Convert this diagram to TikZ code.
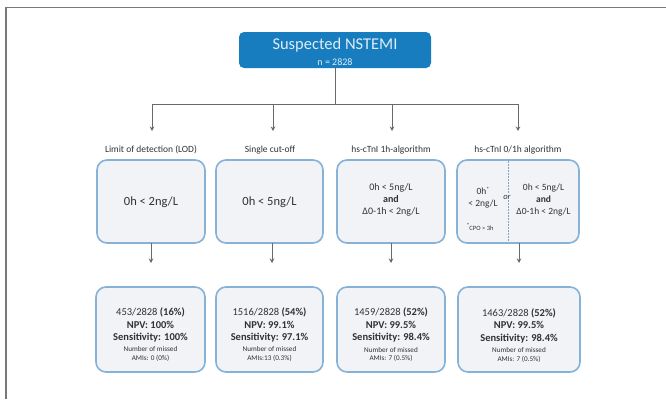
\documentclass[tikz,border=0pt]{standalone}
\usepackage{fontspec}
\setmainfont{Carlito}
\usetikzlibrary{arrows.meta}
\definecolor{framec}{RGB}{120,120,120}
\definecolor{nblue}{RGB}{24,125,190}
\definecolor{ntext}{RGB}{222,236,247}
\definecolor{bline}{RGB}{135,178,216}
\definecolor{bfill}{RGB}{241,243,246}
\definecolor{txt}{RGB}{50,50,50}
\definecolor{arr}{RGB}{105,105,105}
\newcommand{\astmark}{\raisebox{3pt}{\fontsize{6}{6}\selectfont *}}
\begin{document}
\begin{tikzpicture}[x=1pt,y=-1pt,
  every node/.style={inner sep=0pt,outer sep=0pt,text=txt},
  cbox/.style={draw=bline,line width=1.6pt,fill=bfill,rounded corners=10pt,minimum width=#1},
  upbox/.style={cbox=#1,minimum height=83pt},
  lowbox/.style={cbox=#1,minimum height=85pt},
  lbl/.style={font=\fontsize{9.5}{11}\selectfont,text=txt},
  conn/.style={draw=arr,line width=0.8pt},
  arrow/.style={conn,-{Stealth[length=4.5pt,width=4.5pt]}},
  restext/.style={align=center,font=\fontsize{10.5}{12.5}\selectfont},
  small/.style={font=\fontsize{7.2}{8.6}\selectfont}
]
\useasboundingbox (0,0) rectangle (666,399);
\fill[white] (0,0) rectangle (666,399);
% frame
\draw[framec,line width=1.3pt] (6,399) -- (6,7.5) -- (666,7.5);

% top node
\node[fill=nblue,rounded corners=5pt,minimum width=192pt,minimum height=36pt] (top) at (335,50) {};
\node[text=ntext,font=\fontsize{16.5}{18}\selectfont] (topa) at (335,45) {Suspected NSTEMI};
\node[text=ntext,font=\fontsize{10}{11}\selectfont] (topb) at (335,62) {n = 2828};

% branch coordinates
\coordinate (j) at (335,104);
\coordinate (b1) at (152,104);
\coordinate (b2) at (273,104);
\coordinate (b3) at (392,104);
\coordinate (b4) at (518,104);
\coordinate (t1) at (152,131);
\coordinate (t2) at (273,131);
\coordinate (t3) at (392,131);
\coordinate (t4) at (518,131);
\draw[conn] (top.south) -- (j);
\draw[conn] (b1) -- (b4);
\draw[arrow] (b1) -- (t1);
\draw[arrow] (b2) -- (t2);
\draw[arrow] (b3) -- (t3);
\draw[arrow] (b4) -- (t4);

% labels
\node[lbl] (l1) at (151,150) {Limit of detection (LOD)};
\node[lbl] (l2) at (270,150) {Single cut-off};
\node[lbl] (l3) at (391,150) {hs-cTnI 1h-algorithm};
\node[lbl] (l4) at (518,150) {hs-cTnI 0/1h algorithm};

% upper boxes
\node[upbox=108pt] (u1) at (151,201.5) {};
\node[upbox=107pt] (u2) at (269.5,201.5) {};
\node[upbox=108pt] (u3) at (391,201.5) {};
\node[upbox=122pt] (u4) at (518,201.5) {};

\node[font=\fontsize{12.5}{14}\selectfont] (u1t) at (151,202) {0h < 2ng/L};
\node[font=\fontsize{12.5}{14}\selectfont] (u2t) at (269.5,202) {0h < 5ng/L};
\node[align=center,font=\fontsize{10}{12}\selectfont] (u3t) at (391,200) {0h < 5ng/L\\\textbf{and}\\Δ0-1h < 2ng/L};

% box 4 contents
\draw[bline!70!gray,line width=0.6pt,dash pattern=on 1.5pt off 1.5pt] (508,161) -- (508,242);
\node[fill=bfill,inner sep=1pt,font=\fontsize{8.5}{9}\selectfont\itshape] (or) at (507,197) {or};
\node[align=center,font=\fontsize{9.5}{12}\selectfont] (u4l) at (483,198) {0h\astmark\\< 2ng/L};
\node[align=center,font=\fontsize{9.5}{12}\selectfont] (u4r) at (543.5,200) {0h < 5ng/L\\\textbf{and}\\Δ0-1h < 2ng/L};
\node[font=\fontsize{6.5}{7}\selectfont] (cpo) at (480,227) {\astmark CPO > 3h};

% arrows to lower boxes
\coordinate (d1) at (151,263);
\coordinate (d2) at (272,263);
\coordinate (d3) at (391,263);
\coordinate (d4) at (519,263);
\draw[arrow] (u1.south) -- (d1);
\draw[arrow] (u2.south -| d2) -- (d2);
\draw[arrow] (u3.south) -- (d3);
\draw[arrow] (u4.south -| d4) -- (d4);

% lower boxes
\node[lowbox=109pt] (w1) at (150.5,329.5) {};
\node[lowbox=107pt] (w2) at (269.5,329.5) {};
\node[lowbox=108pt] (w3) at (391,329.5) {};
\node[lowbox=122pt] (w4) at (519,329.5) {};

\node[restext] (w1t) at (150.5,325) {453/2828 \textbf{(16\%)}\\\textbf{NPV: 100\%}\\\textbf{Sensitivity: 100\%}};
\node[small,align=center] (w1s) at (150.5,354) {Number of missed\\AMIs: 0 (0\%)};
\node[restext] (w2t) at (269.5,325) {1516/2828 \textbf{(54\%)}\\\textbf{NPV: 99.1\%}\\\textbf{Sensitivity: 97.1\%}};
\node[small,align=center] (w2s) at (269.5,354) {Number of missed\\AMIs:13 (0.3\%)};
\node[restext] (w3t) at (391,325) {1459/2828 \textbf{(52\%)}\\\textbf{NPV: 99.5\%}\\\textbf{Sensitivity: 98.4\%}};
\node[small,align=center] (w3s) at (391,354.5) {Number of missed\\AMIs: 7 (0.5\%)};
\node[restext] (w4t) at (519,325.5) {1463/2828 \textbf{(52\%)}\\\textbf{NPV: 99.5\%}\\\textbf{Sensitivity: 98.4\%}};
\node[small,align=center] (w4s) at (519,355) {Number of missed\\AMIs: 7 (0.5\%)};
\end{tikzpicture}
\end{document}
